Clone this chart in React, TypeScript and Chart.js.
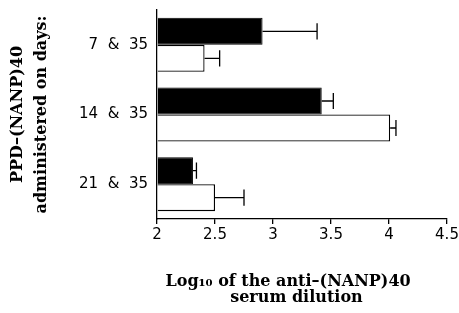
import React, { useEffect, useRef } from "react";
import { Chart, registerables } from "chart.js";
Chart.register(...registerables);

const categories = ["7  &  35", "14  &  35", "21  &  35"];
const blackValues = [2.91, 3.42, 2.31];
const blackErrorEnds = [3.38, 3.52, 2.34];
const whiteValues = [2.41, 4.01, 2.5];
const whiteErrorEnds = [2.54, 4.06, 2.75];
const xTickValues = [2, 2.5, 3, 3.5, 4, 4.5];
const xTickLabels = ["2", "2.5", "3", "3.5", "4", "4.5"];
const yTitle = ["PPD–(NANP)40", "administered on days:"];
const xTitle = ["Log₁₀ of the anti–(NANP)40     ", "serum dilution  "];

const errorEnds = [blackErrorEnds, whiteErrorEnds];

const errorBarPlugin = {
  id: "errorBars",
  afterDatasetsDraw(chart: any) {
    const ctx = chart.ctx;
    const xScale = chart.scales.x;
    chart.data.datasets.forEach((_ds: any, i: number) => {
      const meta = chart.getDatasetMeta(i);
      meta.data.forEach((bar: any, j: number) => {
        const { x, y, height } = bar.getProps(["x", "y", "height"], true);
        const xe = xScale.getPixelForValue(errorEnds[i][j]);
        const cap = Math.abs(height) * 0.6;
        ctx.save();
        ctx.strokeStyle = "#000";
        ctx.lineWidth = 1.3;
        ctx.beginPath();
        ctx.moveTo(x, y);
        ctx.lineTo(xe, y);
        ctx.moveTo(xe, y - cap / 2);
        ctx.lineTo(xe, y + cap / 2);
        ctx.stroke();
        ctx.restore();
      });
    });
  },
};

export default function App() {
  const ref = useRef<HTMLCanvasElement>(null);
  useEffect(() => {
    if (!ref.current) return;
    const chart = new Chart(ref.current, {
      type: "bar",
      data: {
        labels: categories,
        datasets: [
          {
            data: blackValues,
            backgroundColor: "#000",
            borderColor: "#000",
            borderWidth: 1,
            base: 2,
            categoryPercentage: 0.775,
            barPercentage: 1,
          } as any,
          {
            data: whiteValues,
            backgroundColor: "#fff",
            borderColor: "#000",
            borderWidth: 1.3,
            base: 2,
            categoryPercentage: 0.775,
            barPercentage: 1,
          } as any,
        ],
      },
      options: {
        indexAxis: "y",
        animation: false,
        responsive: false,
        layout: { padding: { top: 10, right: 12, left: 0, bottom: 0 } },
        plugins: { legend: { display: false }, tooltip: { enabled: false } },
        scales: {
          x: {
            type: "linear",
            min: 2,
            max: 4.5,
            afterBuildTicks: (scale: any) => {
              scale.ticks = xTickValues.map((v) => ({ value: v }));
            },
            afterFit: (scale: any) => {
              scale.height = 94;
              scale.paddingLeft = 0;
              scale.paddingRight = 0;
            },
            ticks: {
              color: "#000",
              padding: 2,
              font: { family: "DejaVu Sans", size: 15 },
              callback: (v: any) => {
                const idx = xTickValues.indexOf(Number(v));
                return idx >= 0 ? xTickLabels[idx] : "";
              },
              maxRotation: 0,
            },
            grid: {
              display: true,
              drawOnChartArea: false,
              drawTicks: true,
              tickLength: 5,
              color: "#000",
              lineWidth: 1.3,
            },
            border: { display: true, color: "#000", width: 1.3 },
            title: {
              display: true,
              text: xTitle,
              color: "#000",
              font: { family: "DejaVu Serif", size: 16, weight: "bold", lineHeight: 0.95 },
              padding: { top: 0, bottom: 8 },
            },
          },
          y: {
            type: "category",
            position: "left",
            afterFit: (scale: any) => {
              scale.width = 157;
              scale.paddingTop = 0;
              scale.paddingBottom = 0;
            },
            ticks: {
              color: "#000",
              padding: 9,
              font: { family: "DejaVu Sans", size: 15 },
            },
            grid: {
              display: true,
              drawOnChartArea: false,
              drawTicks: false,
              color: "rgba(0,0,0,0)",
            },
            border: { display: true, color: "#000", width: 1.3 },
            title: {
              display: true,
              text: yTitle,
              color: "#000",
              font: { family: "DejaVu Serif", size: 16, weight: "bold", lineHeight: 1.5 },
              padding: { top: 6, bottom: 0 },
            },
          },
        },
      } as any,
      plugins: [errorBarPlugin],
    });
    return () => chart.destroy();
  }, []);
  return (
    <div style={{ position: "absolute", left: 0, top: 0, width: 459, height: 313, background: "#fff" }}>
      <canvas ref={ref} width={459} height={313} />
    </div>
  );
}
